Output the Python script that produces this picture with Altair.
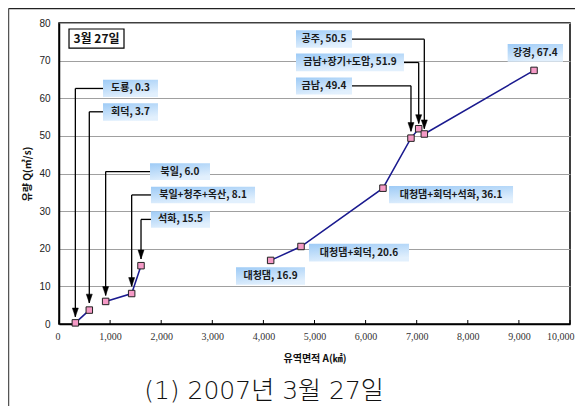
import altair as alt
import pandas as pd

# ---- data ----
names = ["도룡", "회덕", "북일", "북일+청주+옥산", "석화", "대청댐", "대청댐+회덕",
         "대청댐+회덕+석화", "금남", "금남+장기+도암", "공주", "강경"]
area = [320, 593, 913, 1422, 1605, 4142, 4736, 6340, 6888, 7039, 7149, 9296]
discharge = [0.3, 3.7, 6.0, 8.1, 15.5, 16.9, 20.6, 36.1, 49.4, 51.9, 50.5, 67.4]
segment = [1, 1, 2, 2, 2, 3, 3, 3, 3, 3, 3, 3]

# label boxes (in data units)
box_x1 = [861, 861, 1781, 1800, 1800, 3464, 4892, 6458, 4638, 4638, 4638, 8780]
box_x2 = [1937, 1937, 2955, 3836, 2955, 4814, 6849, 8885, 5734, 6751, 5734, 9863]
box_y1 = [60.3, 54.0, 38.3, 32.1, 25.6, 10.4, 16.6, 32.1, 61.0, 67.2, 73.4, 69.7]
box_y2 = [64.9, 58.7, 42.7, 36.5, 30.0, 15.1, 21.3, 36.7, 65.5, 71.9, 78.1, 74.4]

# leader arrows (in data units)
leader_x = [320, 593, 913, 1422, 1605, 6888, 7039, 7149]
leader_level = [62.6, 56.4, 40.5, 34.3, 27.8, 63.3, 69.5, 75.7]
leader_tip = [1.9, 5.6, 7.6, 10.0, 17.3, 51.2, 53.3, 51.9]
leader_box = [861, 861, 1781, 1800, 1800, 5734, 6751, 5734]

x_ticks = [0, 1000, 2000, 3000, 4000, 5000, 6000, 7000, 8000, 9000, 10000]
y_ticks = [0, 10, 20, 30, 40, 50, 60, 70, 80]

date_box = {"x1": 196, "x2": 1272, "y1": 73.3, "y2": 78.4, "label": "3월 27일"}
title_text = "(1) 2007년 3월 27일"
x_title = "유역면적 A(㎢)"
y_title = "유량 Q(㎥/s)"

W, H = 511, 301
PAD = {"left": 51, "top": 15, "right": 5, "bottom": 82}
KFONT = "Noto Sans CJK KR"

pts = pd.DataFrame({"name": names, "area": area, "q": discharge, "seg": segment})
boxes = pd.DataFrame({"x1": box_x1, "x2": box_x2, "y1": box_y1, "y2": box_y2,
                      "label": [f"{n}, {v:.1f}" for n, v in zip(names, discharge)]})
boxes["xm"] = (boxes.x1 + boxes.x2) / 2
boxes["ym"] = (boxes.y1 + boxes.y2) / 2
lead = pd.DataFrame({"x": leader_x, "lvl": leader_level, "tip": leader_tip, "bx": leader_box})
ticks = pd.DataFrame({"t": x_ticks})
dbox = pd.DataFrame([date_box])
dbox["xm"] = (dbox.x1 + dbox.x2) / 2
dbox["ym"] = (dbox.y1 + dbox.y2) / 2
one = pd.DataFrame({"a": [0]})

xs = alt.Scale(domain=[0, 10000], nice=False, zero=False)
ys = alt.Scale(domain=[0, 80], nice=False, zero=False)

XAX = alt.Axis(values=x_ticks, format=",d", ticks=False, grid=False, labelFlush=True,
               labelFlushOffset=4, labelOverlap=False,
               labelFont="Liberation Serif", labelFontSize=10, labelColor="#333",
               labelPadding=7, titleFont=KFONT, titleFontSize=10,
               titleFontWeight="bold", titleColor="#111", titlePadding=12,
               domainColor="black", domainWidth=1.5)
YAX = alt.Axis(values=y_ticks, ticks=False, grid=True, labelFlush=False,
               gridColor="#a0a0a0", gridWidth=1, labelFont="Liberation Sans",
               labelFontSize=10, labelColor="#222", labelPadding=9,
               titleFont=KFONT, titleFontSize=10, titleFontWeight="bold",
               titleColor="#111", titlePadding=6,
               domainColor="black", domainWidth=1.5)


def X(f):
    return alt.X(f, type="quantitative", scale=xs, axis=XAX, title=x_title)


def Y(f):
    return alt.Y(f, type="quantitative", scale=ys, axis=YAX, title=y_title)


lines = alt.Chart(pts).mark_line(color="#1a1a8f", strokeWidth=1.5).encode(
    x=X("area"), y=Y("q"), detail="seg:N")

xtick_marks = alt.Chart(ticks).mark_rule(color="black", strokeWidth=1).encode(
    x=X("t"), y=alt.value(H), y2=alt.value(H - 4))

points = alt.Chart(pts).mark_point(shape="square", filled=True, fill="#f59ac6",
                                   stroke="#222", strokeWidth=1, size=42, opacity=1).encode(
    x=X("area"), y=Y("q"))

hlead = alt.Chart(lead).mark_rule(color="black", strokeWidth=1.3).encode(
    x=X("x"), x2="bx", y=Y("lvl"))
vlead = alt.Chart(lead).mark_rule(color="black", strokeWidth=1.3).encode(
    x=X("x"), y=Y("lvl"), y2="tip")
heads = alt.Chart(lead).mark_point(shape="M0,0 L-0.75,-2.2 L0.75,-2.2 Z", filled=True,
                                   fill="black", stroke="black", strokeWidth=0.5,
                                   size=64, opacity=1).encode(
    x=X("x"), y=Y("tip"))

grad = alt.LinearGradient(gradient="linear",
                          stops=[alt.GradientStop(color="#9ecbf6", offset=0),
                                 alt.GradientStop(color="#e2f0fd", offset=1)],
                          x1=0, y1=0, x2=0.4, y2=1)
rects = alt.Chart(boxes).mark_rect(color=grad).encode(
    x=X("x1"), x2="x2", y=Y("y1"), y2="y2")
texts = alt.Chart(boxes).mark_text(font=KFONT, fontSize=10, fontWeight="bold",
                                   color="#1a1a1a", align="center", baseline="middle").encode(
    x=X("xm"), y=Y("ym"), text="label:N")

drect = alt.Chart(dbox).mark_rect(fill="white", stroke="black", strokeWidth=1.2).encode(
    x=X("x1"), x2="x2", y=Y("y1"), y2="y2")
dtext = alt.Chart(dbox).mark_text(font=KFONT, fontSize=12, fontWeight="bold",
                                  color="#111", align="center", baseline="middle").encode(
    x=X("xm"), y=Y("ym"), text="label:N")

title = alt.Chart(one).mark_text(font="DejaVu Sans, Noto Sans CJK KR", fontSize=25,
                                 fontWeight=300, color="#111",
                                 align="center", baseline="middle").encode(
    x=alt.value(205), y=alt.value(368), text=alt.value(title_text))

frame_top = alt.Chart(one).mark_rule(color="#222", strokeWidth=1.5).encode(
    x=alt.value(-PAD["left"] + 0.5), x2=alt.value(W + PAD["right"]),
    y=alt.value(-PAD["top"] + 0.5))
frame_left = alt.Chart(one).mark_rule(color="#555", strokeWidth=1.5).encode(
    x=alt.value(-PAD["left"] + 0.5), y=alt.value(-PAD["top"] + 0.5),
    y2=alt.value(H + PAD["bottom"]))

chart = alt.layer(lines, xtick_marks, points, hlead, vlead, heads, rects, texts,
                  drect, dtext, title, frame_top, frame_left).properties(
    width=W, height=H,
    padding=PAD,
    autosize=alt.AutoSizeParams(type="none"),
    background="white",
).configure_view(stroke="black", strokeWidth=1.5)

chart.save("out.html", embed_options={"renderer": "svg", "actions": False})
